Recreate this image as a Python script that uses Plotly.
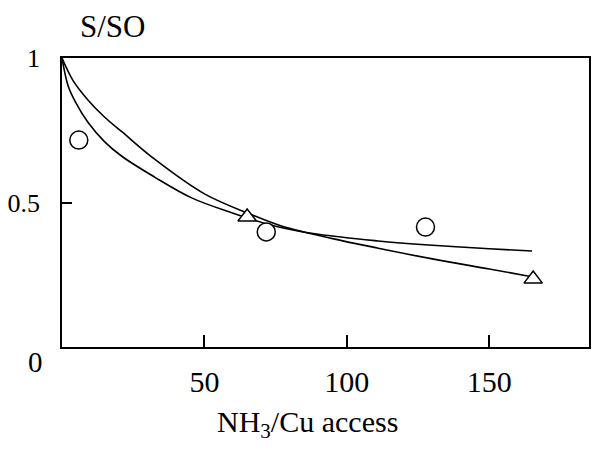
import plotly.graph_objects as go

# Curves
curve_a_x = [0, 4, 9.1, 15, 21, 32.5, 50, 66.8, 77.3, 95, 111, 130, 150, 164]
curve_a_y = [1.0, 0.92, 0.855, 0.795, 0.745, 0.65, 0.53, 0.457, 0.418, 0.375, 0.342, 0.305, 0.27, 0.245]
curve_b_x = [0, 2.1, 4.5, 9.1, 15, 21, 32.5, 45.5, 59.8, 75, 90, 111, 128.7, 150, 165]
curve_b_y = [1.0, 0.905, 0.852, 0.778, 0.71, 0.66, 0.588, 0.516, 0.464, 0.418, 0.39, 0.367, 0.353, 0.34, 0.332]

circle_x = [5.9, 71.7, 127.6]
circle_y = [0.716, 0.398, 0.415]
triangle_x = [65, 165.4]
triangle_y = [0.45, 0.235]

x_ticks = [50, 100, 150]
y_ticks = [0.5, 1]
y_tick_labels = ["0.5", "1"]

FONT = "Liberation Serif, Times New Roman, serif"

fig = go.Figure()
for cx, cy in [(curve_a_x, curve_a_y), (curve_b_x, curve_b_y)]:
    fig.add_trace(go.Scatter(x=cx, y=cy, mode="lines",
                             line=dict(color="black", width=1.6, shape="spline", smoothing=1.0),
                             showlegend=False, hoverinfo="skip"))
fig.add_trace(go.Scatter(x=circle_x, y=circle_y, mode="markers",
                         marker=dict(symbol="circle", size=18, color="white",
                                     line=dict(color="black", width=1.5)),
                         showlegend=False))
fig.add_trace(go.Scatter(x=triangle_x, y=triangle_y, mode="markers",
                         marker=dict(symbol="triangle-up", size=16, color="white",
                                     line=dict(color="black", width=1.5)),
                         showlegend=False))

fig.update_layout(
    width=593, height=451,
    margin=dict(l=62, r=2, t=58, b=104),
    paper_bgcolor="white", plot_bgcolor="white",
    font=dict(family=FONT, color="black"),
    xaxis=dict(range=[0, 185], tickvals=x_ticks, ticks="inside", ticklen=12,
               tickwidth=1.5, tickcolor="black", showline=True, linecolor="black",
               linewidth=1.5, mirror=True, showgrid=False, zeroline=False,
               tickfont=dict(size=30, family=FONT), ticklabelstandoff=7),
    yaxis=dict(range=[0, 1], tickvals=y_ticks, ticktext=y_tick_labels, ticks="inside",
               ticklen=10, tickwidth=1.5, tickcolor="black", showline=True,
               linecolor="black", linewidth=1.5, mirror=True, showgrid=False,
               zeroline=False, tickfont=dict(size=26, family=FONT),
               ticklabelstandoff=15),
    annotations=[
        dict(text="S/SO", x=(113 - 62) / 529, y=(347 - 27) / 289, xref="paper", yref="paper",
             showarrow=False, xanchor="center", yanchor="middle",
             font=dict(size=31, family=FONT)),
        dict(text="0", x=(35 - 62) / 529, y=(347 - 362) / 289, xref="paper", yref="paper",
             showarrow=False, xanchor="center", yanchor="middle",
             font=dict(size=29, family=FONT)),
        dict(text="NH<sub>3</sub>/Cu access", x=(308 - 62) / 529, y=(347 - 424) / 289,
             xref="paper", yref="paper", showarrow=False, xanchor="center",
             yanchor="middle", font=dict(size=30, family=FONT)),
    ],
)
fig.write_html("out.html")
